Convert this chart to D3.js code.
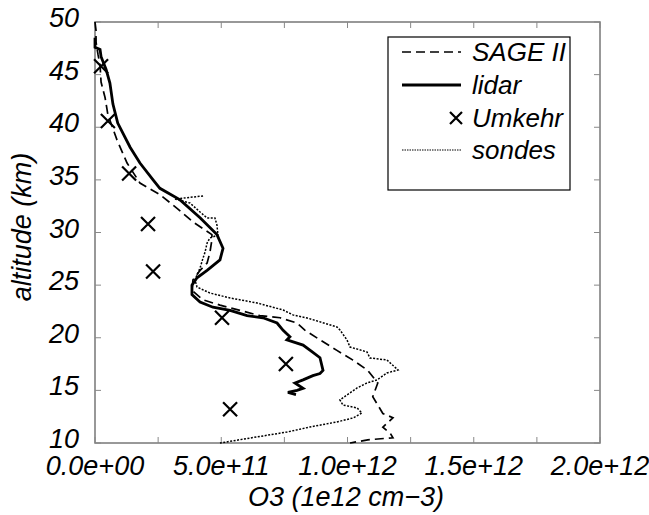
<!DOCTYPE html>
<html>
<head>
<meta charset="utf-8">
<script src="https://cdn.jsdelivr.net/npm/d3@7"></script>
<style>
  body { margin: 0; background: #fff; }
  svg { display: block; }
  text { font-family: "Liberation Sans", Arial, sans-serif; font-style: italic; fill: #000; }
</style>
</head>
<body>
<svg id="chart"></svg>
<script>
// altitude (km) and ozone number density (cm-3) for each profile
const sageAlt = [50.0, 49.2, 48.1, 46.9, 45.9, 44.3, 42.8, 41.2, 38.8, 36.6, 34.7, 33.6, 32.3, 31.0, 29.8, 29.3, 28.1, 27.1, 26.4, 25.5, 24.5, 23.6, 23.1, 22.6, 22.1, 21.9, 21.4, 20.7, 19.8, 18.8, 17.9, 16.9, 15.7, 14.4, 12.8, 12.4, 11.5, 10.9, 10.5, 10.3, 10.0];
const sageO3 = [0.0, 0.04e11, 0.04e11, 0.12e11, 0.2e11, 0.24e11, 0.4e11, 0.51e11, 0.87e11, 1.27e11, 1.78e11, 2.57e11, 3.25e11, 3.88e11, 4.63e11, 4.63e11, 4.55e11, 4.44e11, 4.16e11, 3.88e11, 3.84e11, 4.28e11, 4.95e11, 5.74e11, 6.53e11, 7.33e11, 8.0e11, 8.32e11, 8.91e11, 9.58e11, 10.2e11, 10.8e11, 11.2e11, 11.0e11, 11.4e11, 11.8e11, 11.4e11, 11.7e11, 11.8e11, 10.8e11, 10.1e11];

const lidarAlt = [48.5, 47.6, 47.4, 46.7, 45.5, 44.2, 42.2, 40.4, 38.1, 36.6, 35.0, 34.2, 33.1, 31.4, 29.8, 28.5, 27.4, 26.4, 25.7, 25.0, 24.1, 23.4, 22.9, 22.6, 22.1, 21.9, 21.4, 20.7, 20.1, 19.8, 19.3, 18.6, 18.1, 16.9, 16.6, 16.4, 16.0, 15.7, 15.2, 15.0, 14.8, 14.6];
const lidarO3 = [0.0, 0.0, 0.2e11, 0.24e11, 0.44e11, 0.59e11, 0.71e11, 0.9e11, 1.39e11, 1.78e11, 2.3e11, 2.57e11, 3.37e11, 4.16e11, 4.83e11, 5.07e11, 4.95e11, 4.44e11, 4.04e11, 3.84e11, 3.84e11, 4.16e11, 4.67e11, 5.35e11, 6.02e11, 6.65e11, 7.21e11, 7.45e11, 7.72e11, 7.6e11, 8.24e11, 8.63e11, 8.91e11, 9.03e11, 8.91e11, 8.63e11, 8.24e11, 7.92e11, 8.24e11, 8.0e11, 7.64e11, 7.96e11];

const umkehrAlt = [45.8, 40.6, 35.6, 30.8, 26.3, 21.9, 17.5, 13.2];
const umkehrO3 = [0.24e11, 0.51e11, 1.35e11, 2.1e11, 2.3e11, 5.03e11, 7.56e11, 5.35e11];

const sondeAlt = [33.47, 33.18, 32.8, 31.95, 31.38, 31.38, 30.71, 29.76, 29.48, 29.0, 28.15, 27.58, 26.63, 25.96, 25.49, 24.82, 24.25, 23.78, 23.3, 22.64, 22.17, 21.88, 21.03, 20.74, 19.79, 19.12, 18.65, 18.08, 17.89, 16.94, 16.65, 15.99, 15.7, 15.23, 14.56, 14.09, 13.61, 13.33, 12.85, 12.38, 12.0, 11.52, 11.04, 10.47, 10.0];
const sondeO3 = [4.28e11, 3.17e11, 3.76e11, 4.16e11, 4.44e11, 4.75e11, 4.83e11, 4.87e11, 4.55e11, 4.44e11, 4.36e11, 4.28e11, 4.16e11, 4.04e11, 3.96e11, 4.04e11, 4.55e11, 5.35e11, 6.42e11, 7.45e11, 7.84e11, 8.4e11, 9.58e11, 9.7e11, 9.98e11, 10.1e11, 10.77e11, 10.89e11, 11.56e11, 12.0e11, 11.56e11, 11.17e11, 10.77e11, 10.38e11, 9.98e11, 9.7e11, 9.82e11, 10.38e11, 10.57e11, 10.22e11, 9.58e11, 8.51e11, 7.6e11, 6.14e11, 4.95e11];

const xTicks = [0, 5e11, 1e12, 1.5e12, 2e12];
const yTicks = [10, 15, 20, 25, 30, 35, 40, 45, 50];
const legendLabels = ["SAGE II", "lidar", "Umkehr", "sondes"];

const W = 649, H = 515;
const pLeft = 95, pRight = 600, pTop = 22, pBottom = 443;

const svg = d3.select("#chart").attr("width", W).attr("height", H);

const x = d3.scaleLinear().domain([0, 2e12]).range([pLeft, pRight]);
const y = d3.scaleLinear().domain([10, 50]).range([pBottom, pTop]);

// frame and inward ticks
const g = svg.append("g");
g.append("rect")
    .attr("x", pLeft).attr("y", pTop)
    .attr("width", pRight - pLeft).attr("height", pBottom - pTop)
    .attr("fill", "none").attr("stroke", "#777").attr("stroke-width", 1.5);

const xMinor = d3.range(0, 2e12 + 1, 2.5e11);
xMinor.forEach(v => {
    g.append("line").attr("x1", x(v)).attr("x2", x(v)).attr("y1", pBottom).attr("y2", pBottom - 6)
        .attr("stroke", "#888");
    g.append("line").attr("x1", x(v)).attr("x2", x(v)).attr("y1", pTop).attr("y2", pTop + 6)
        .attr("stroke", "#888");
});
yTicks.forEach(v => {
    g.append("line").attr("x1", pLeft).attr("x2", pLeft + 6).attr("y1", y(v)).attr("y2", y(v))
        .attr("stroke", "#888");
    g.append("line").attr("x1", pRight).attr("x2", pRight - 6).attr("y1", y(v)).attr("y2", y(v))
        .attr("stroke", "#888");
});

// tick labels
svg.append("g").selectAll("text")
    .data(xTicks)
    .enter().append("text")
    .attr("x", d => x(d))
    .attr("y", 475)
    .attr("text-anchor", "middle")
    .attr("font-size", 27)
    .text(d => d3.format(".1e")(d).replace(/e([+-])(\d)$/, "e$10$2"));

svg.append("g").selectAll("text")
    .data(yTicks)
    .enter().append("text")
    .attr("x", 79)
    .attr("y", d => y(d) + 5)
    .attr("text-anchor", "end")
    .attr("font-size", 27)
    .text(d => d);

// axis titles
svg.append("text")
    .attr("x", 346).attr("y", 506)
    .attr("text-anchor", "middle")
    .attr("font-size", 27)
    .text("O3 (1e12 cm\u22123)");

svg.append("text")
    .attr("transform", "translate(31,227) rotate(-90)")
    .attr("text-anchor", "middle")
    .attr("font-size", 27)
    .text("altitude (km)");

// profiles
const line = d3.line().x(d => x(d[1])).y(d => y(d[0]));
const plot = svg.append("g");

plot.append("path")
    .datum(d3.zip(sondeAlt, sondeO3))
    .attr("d", line)
    .attr("fill", "none").attr("stroke", "#000")
    .attr("stroke-width", 1.5).attr("stroke-dasharray", "2,1.5");

plot.append("path")
    .datum(d3.zip(sageAlt, sageO3))
    .attr("d", line)
    .attr("fill", "none").attr("stroke", "#000")
    .attr("stroke-width", 1.7).attr("stroke-dasharray", "9,5");

plot.append("path")
    .datum(d3.zip(lidarAlt, lidarO3))
    .attr("d", line)
    .attr("fill", "none").attr("stroke", "#000")
    .attr("stroke-width", 2.8);

const cross = (sel, cx, cy, r) => {
    sel.append("path")
        .attr("d", `M${cx - r},${cy - r}L${cx + r},${cy + r}M${cx - r},${cy + r}L${cx + r},${cy - r}`)
        .attr("stroke", "#000").attr("stroke-width", 2.2).attr("fill", "none");
};
d3.zip(umkehrAlt, umkehrO3).forEach(d => cross(plot, x(d[1]), y(d[0]), 7));

// legend
const lg = svg.append("g");
lg.append("rect")
    .attr("x", 388).attr("y", 37).attr("width", 182).attr("height", 153)
    .attr("fill", "#fff").attr("stroke", "#000").attr("stroke-width", 1.2);

const rowY = [52, 85, 118, 150];
legendLabels.forEach((name, i) => {
    lg.append("text")
        .attr("x", 472).attr("y", rowY[i] + 9)
        .attr("font-size", 26)
        .text(name);
});
lg.append("line").attr("x1", 402).attr("x2", 461).attr("y1", rowY[0]).attr("y2", rowY[0])
    .attr("stroke", "#000").attr("stroke-width", 1.7).attr("stroke-dasharray", "9,5");
lg.append("line").attr("x1", 402).attr("x2", 461).attr("y1", rowY[1]).attr("y2", rowY[1])
    .attr("stroke", "#000").attr("stroke-width", 2.8);
cross(lg, 456, rowY[2], 6);
lg.append("line").attr("x1", 402).attr("x2", 461).attr("y1", rowY[3]).attr("y2", rowY[3])
    .attr("stroke", "#000").attr("stroke-width", 1.2).attr("stroke-dasharray", "1.5,1");
</script>
</body>
</html>
